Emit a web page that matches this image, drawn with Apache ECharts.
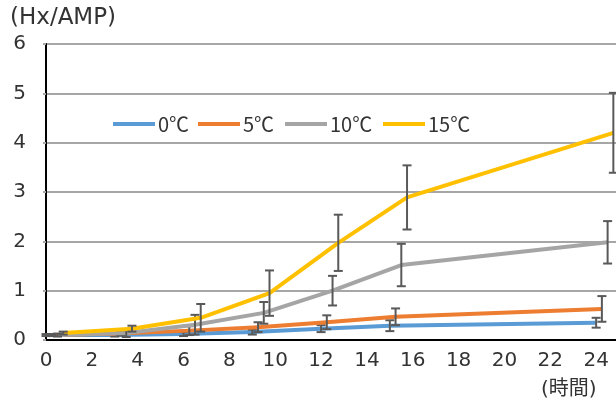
<!DOCTYPE html>
<html>
<head>
<meta charset="utf-8">
<script src="https://cdn.jsdelivr.net/npm/echarts@6/dist/echarts.min.js"></script>
<style>
  html, body { margin: 0; padding: 0; background: #ffffff; }
  #chart { width: 616px; height: 401px; }
</style>
</head>
<body>
<div id="chart"></div>
<script>
// Sampling times (hours) and mean ± error per temperature
const hours = [0, 3, 6, 9, 12, 15, 24];
const seriesNames = ['0℃', '5℃', '10℃', '15℃'];

const mean0  = [0.10, 0.10, 0.12, 0.16, 0.23, 0.29, 0.35];
const err0   = [0.02, 0.03, 0.04, 0.05, 0.07, 0.11, 0.10];
const mean5  = [0.10, 0.13, 0.19, 0.26, 0.36, 0.47, 0.63];
const err5   = [0.02, 0.04, 0.09, 0.10, 0.14, 0.17, 0.26];
const mean10 = [0.10, 0.14, 0.31, 0.55, 1.00, 1.52, 1.98];
const err10  = [0.03, 0.08, 0.20, 0.22, 0.30, 0.43, 0.43];
const mean15 = [0.14, 0.23, 0.45, 0.95, 1.97, 2.89, 4.20];
const err15  = [0.03, 0.06, 0.28, 0.46, 0.57, 0.65, 0.81];

const xTickLabels = ['0', '2', '4', '6', '8', '10', '12', '14', '16', '18', '20', '22', '24'];
const yTickLabels = ['0', '1', '2', '3', '4', '5', '6'];
const yTitle = '(Hx/AMP)';
const xTitle = '(時間)';

const FONT = '"DejaVu Sans", "Noto Sans CJK JP", sans-serif';
const LEGEND_FONT = '"Noto Sans CJK JP", sans-serif';
const colors = ['#5B9BD5', '#ED7D31', '#A5A5A5', '#FFC000'];
const means = [mean0, mean5, mean10, mean15];
const errs = [err0, err5, err10, err15];
// each temperature is nudged a quarter hour so the error bars do not overlap
const nudge = 0.25;
// left edge of each legend entry inside the plot
const legendLeft = [113, 198, 285, 383];

const series = [];
means.forEach((m, i) => {
  const pts = m.map((v, k) => [hours[k] + i * nudge, v]);
  series.push({
    type: 'line',
    name: seriesNames[i],
    data: pts,
    symbol: 'none',
    z: 2 + i * 2,
    lineStyle: { color: colors[i], width: 4, cap: 'butt', join: 'round' },
    itemStyle: { color: colors[i] },
    color: colors[i],
    silent: true,
    animation: false
  });
  series.push({
    type: 'custom',
    name: seriesNames[i] + '_err',
    z: 3 + i * 2,
    silent: true,
    animation: false,
    clip: false,
    data: m.map((v, k) => [hours[k] + i * nudge, v - errs[i][k], v + errs[i][k]]),
    encode: { x: 0, y: [1, 2] },
    renderItem: function (params, api) {
      const x = api.value(0);
      const lo = api.coord([x, api.value(1)]);
      const hi = api.coord([x, api.value(2)]);
      const w = 4.5;
      const style = { stroke: '#595959', lineWidth: 2, fill: null };
      return {
        type: 'group',
        children: [
          { type: 'line', shape: { x1: lo[0], y1: lo[1], x2: hi[0], y2: hi[1] }, style: style },
          { type: 'line', shape: { x1: lo[0] - w, y1: lo[1], x2: lo[0] + w, y2: lo[1] }, style: style },
          { type: 'line', shape: { x1: hi[0] - w, y1: hi[1], x2: hi[0] + w, y2: hi[1] }, style: style }
        ]
      };
    }
  });
});

const legends = seriesNames.map((name, i) => ({
  data: [name],
  left: legendLeft[i], top: 114,
  padding: 0,
  icon: 'rect',
  itemWidth: 42, itemHeight: 4,
  textStyle: { fontFamily: LEGEND_FONT, fontSize: 20, color: '#333333', padding: [0, 0, 0, -2] },
  selectedMode: false
}));

const chart = echarts.init(document.getElementById('chart'), null, { renderer: 'canvas' });
chart.setOption({
  animation: false,
  backgroundColor: '#ffffff',
  // the plot runs on past the right edge of the canvas (to 26 h)
  grid: { left: 46, top: 44, height: 296, width: 596, containLabel: false, outerBoundsMode: 'none' },
  legend: legends,
  xAxis: {
    type: 'value',
    min: 0, max: 26, interval: 2,
    axisLine: { lineStyle: { color: '#000000', width: 2 } },
    axisTick: { show: false },
    splitLine: { show: false },
    axisLabel: {
      margin: 11,
      fontFamily: FONT, fontSize: 20, color: '#333333',
      formatter: function (v) { const i = xTickLabels.indexOf(String(v)); return i >= 0 ? xTickLabels[i] : ''; }
    }
  },
  yAxis: {
    type: 'value',
    min: 0, max: 6, interval: 1,
    axisLine: { show: true, lineStyle: { color: '#000000', width: 2 } },
    axisTick: { show: true, length: 3, lineStyle: { color: '#A6A6A6', width: 2 } },
    splitLine: { lineStyle: { color: '#A6A6A6', width: 2 } },
    axisLabel: {
      margin: 20,
      fontFamily: FONT, fontSize: 20, color: '#333333',
      formatter: function (v) { return yTickLabels[v] !== undefined ? yTickLabels[v] : ''; }
    }
  },
  graphic: [
    { type: 'text', left: 10, top: 7, style: { text: yTitle, font: '23px ' + FONT, fill: '#333333' } },
    { type: 'text', left: 541, top: 380, style: { text: xTitle, font: '20px ' + FONT, fill: '#333333' } }
  ],
  series: series
});
</script>
</body>
</html>
